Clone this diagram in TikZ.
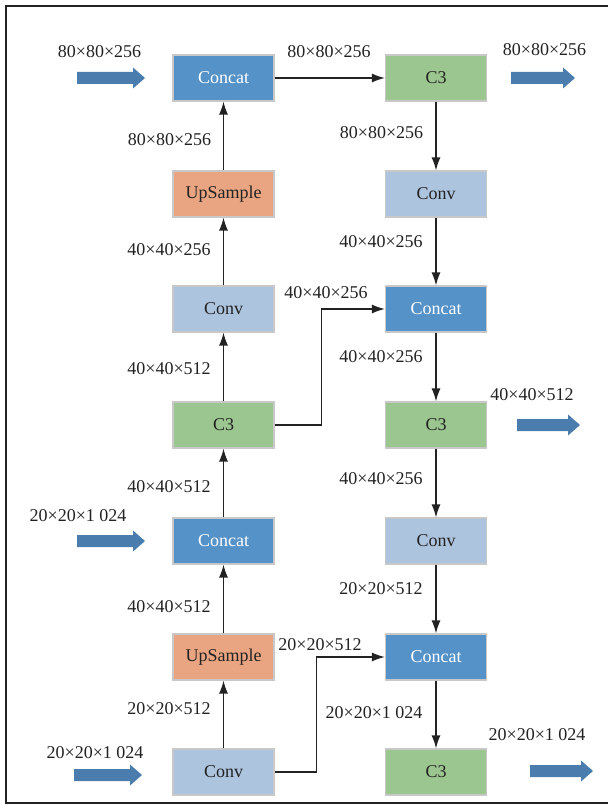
\documentclass[tikz,border=0pt]{standalone}
\usepackage{fontspec}
\setmainfont{Liberation Serif}
\usetikzlibrary{arrows.meta}
\definecolor{concatc}{HTML}{5592C8}
\definecolor{upc}{HTML}{E9A581}
\definecolor{convc}{HTML}{ADC4DF}
\definecolor{cthree}{HTML}{9CC68F}
\definecolor{boxedge}{HTML}{C8C8C8}
\definecolor{fatc}{HTML}{4A7DAE}
\definecolor{ink}{HTML}{222222}
% wide feature-map arrow: from x=#1 to x=#2 at height y=#3
\newcommand\fatarr[3]{%
  \fill[fatc] (#1,#3-6) -- (#2-12,#3-6) -- (#2-12,#3-10.5) -- (#2,#3)
    -- (#2-12,#3+10.5) -- (#2-12,#3+6) -- (#1,#3+6) -- cycle;}
\begin{document}
\begin{tikzpicture}[x=1pt,y=-1pt,
  box/.style={draw=boxedge,line width=1.2pt,minimum width=101pt,minimum height=46pt,
    inner sep=0pt,text=ink,font=\fontsize{18}{20}\selectfont},
  concat/.style={box,fill=concatc,text=white},
  upsmp/.style={box,fill=upc},
  conv/.style={box,fill=convc},
  cthr/.style={box,fill=cthree},
  lbl/.style={inner sep=0pt,text=ink,font=\fontsize{18}{20}\selectfont},
  link/.style={draw=ink,line width=1.3pt,-{Latex[length=13pt,width=9pt]}},
]
\useasboundingbox (0,0) rectangle (608,805);
% outer frame, open on the right where the page ends
\draw[line width=2pt,draw=ink] (608,6) -- (6,6) -- (6,803) -- (608,803);

% left column (bottom-up path)
\node[concat] (lc1) at (223.5,78) {Concat};
\node[upsmp]  (lu1) at (223.5,194) {UpSample};
\node[conv]   (lv1) at (223.5,309) {Conv};
\node[cthr]   (l3)  at (223.5,425) {C3};
\node[concat] (lc2) at (223.5,541) {Concat};
\node[upsmp]  (lu2) at (223.5,657) {UpSample};
\node[conv]   (lv2) at (223.5,772) {Conv};

% right column (top-down path)
\node[cthr]   (r31) at (436,78) {C3};
\node[conv]   (rv1) at (436,194) {Conv};
\node[concat] (rc1) at (436,309) {Concat};
\node[cthr]   (r32) at (436,425) {C3};
\node[conv]   (rv2) at (436,541) {Conv};
\node[concat] (rc2) at (436,657) {Concat};
\node[cthr]   (r33) at (436,772) {C3};

% connectors
\draw[link] (lv2) -- (lu2);
\draw[link] (lu2) -- (lc2);
\draw[link] (lc2) -- (l3);
\draw[link] (l3) -- (lv1);
\draw[link] (lv1) -- (lu1);
\draw[link] (lu1) -- (lc1);
\draw[link] (lc1) -- (r31);
\draw[link] (r31) -- (rv1);
\draw[link] (rv1) -- (rc1);
\draw[link] (rc1) -- (r32);
\draw[link] (r32) -- (rv2);
\draw[link] (rv2) -- (rc2);
\draw[link] (rc2) -- (r33);
\draw[link] (l3.east) -- ++(47,0) |- (rc1.west);
\draw[link] (lv2.east) -- ++(42,0) |- (rc2.west);

% wide input / output arrows
\fatarr{77}{145}{78}
\fatarr{511}{575}{78}
\fatarr{517}{580}{425}
\fatarr{77}{145}{541}
\fatarr{74}{142}{775}
\fatarr{530}{593}{771}

% tensor size labels
\node[lbl] (t1)  at (99.5,52)  {80×80×256};
\node[lbl] (t2)  at (169.5,140) {80×80×256};
\node[lbl] (t3)  at (329,52)   {80×80×256};
\node[lbl] (t4)  at (544.5,50) {80×80×256};
\node[lbl] (t5)  at (381.5,133) {80×80×256};
\node[lbl] (t6)  at (169,250)  {40×40×256};
\node[lbl] (t7)  at (381,242)  {40×40×256};
\node[lbl] (t8)  at (326,293)  {40×40×256};
\node[lbl] (t9)  at (169,369)  {40×40×512};
\node[lbl] (t10) at (381,357)  {40×40×256};
\node[lbl] (t11) at (532,395)  {40×40×512};
\node[lbl] (t12) at (169,487)  {40×40×512};
\node[lbl] (t13) at (381,479)  {40×40×256};
\node[lbl] (t14) at (78,516)   {20×20×1~024};
\node[lbl] (t15) at (169,607)  {40×40×512};
\node[lbl] (t16) at (381,589)  {20×20×512};
\node[lbl] (t17) at (320,645)  {20×20×512};
\node[lbl] (t18) at (169,709)  {20×20×512};
\node[lbl] (t19) at (374,713)  {20×20×1~024};
\node[lbl] (t20) at (95,753)   {20×20×1~024};
\node[lbl] (t21) at (537,735)  {20×20×1~024};
\end{tikzpicture}
\end{document}
